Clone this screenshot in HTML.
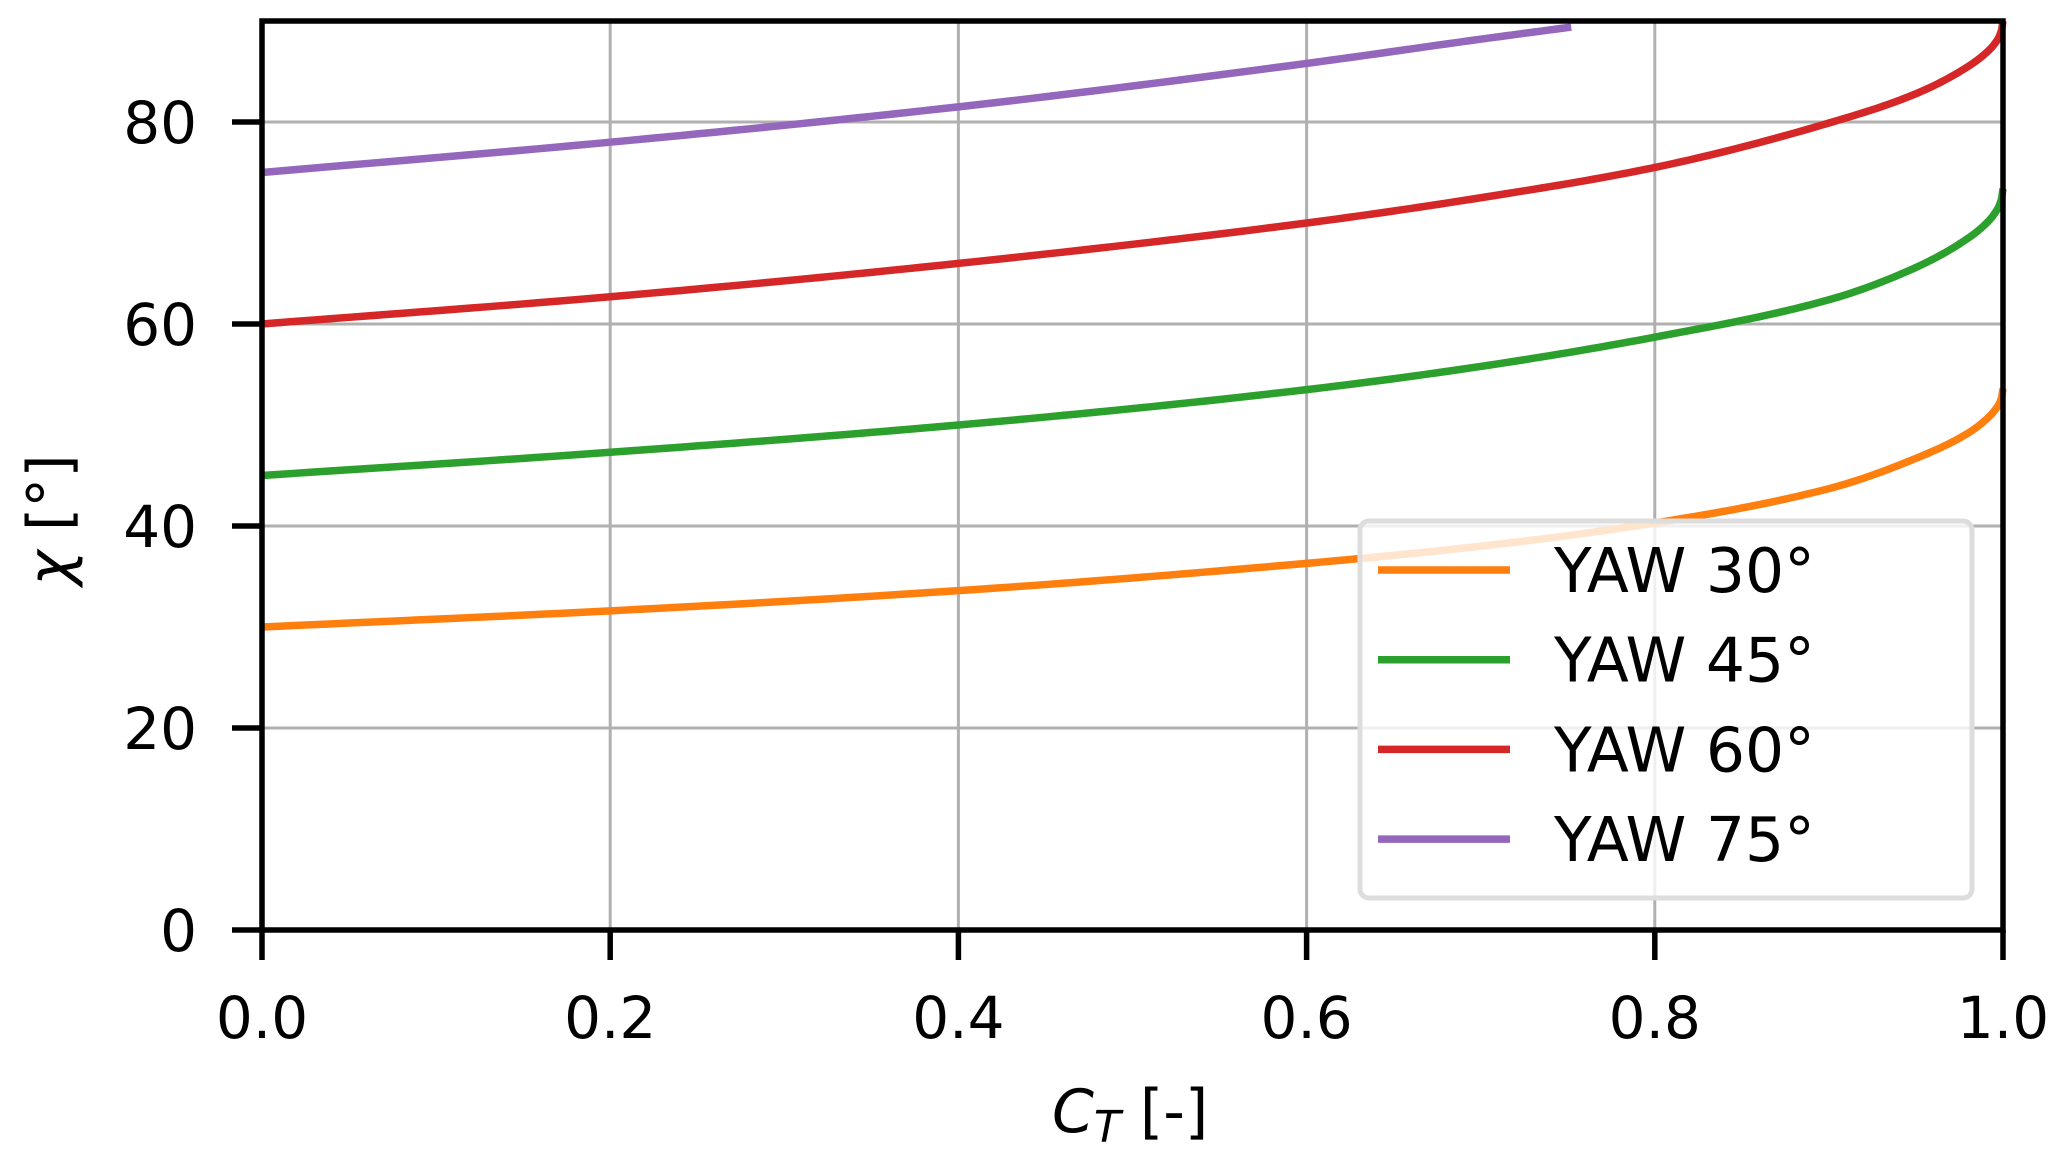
<!DOCTYPE html>
<html><head><meta charset="utf-8"><style>
html,body{margin:0;padding:0;background:#fff;}
svg{display:block;}
text{font-family:"DejaVu Sans","Liberation Sans",sans-serif;fill:#000;}
</style></head><body>
<svg id="chart" width="2067" height="1160" viewBox="0 0 2067 1160" xmlns="http://www.w3.org/2000/svg">
<g id="grid"></g>
<g id="series"></g>
<g id="axes"></g>
<g id="legend"></g>
<text x="1052" y="1132" font-size="60"><tspan font-style="italic">C</tspan><tspan font-style="italic" font-size="44" dy="10">T</tspan><tspan dy="-10"> [-]</tspan></text>
<text transform="translate(70,520) rotate(-90)" text-anchor="middle" font-size="60"><tspan font-style="italic">χ</tspan> [°]</text>
</svg>
<script>
const xTicks=[0,0.2,0.4,0.6,0.8,1.0];
const xTickLabels=["0.0","0.2","0.4","0.6","0.8","1.0"];
const yTicks=[0,20,40,60,80];
const yTickLabels=["0","20","40","60","80"];
const seriesNames=["YAW 30°","YAW 45°","YAW 60°","YAW 75°"];
const seriesColors=["#ff7f0e","#2ca02c","#d62728","#9467bd"];
const ct30=[0,0.2,0.4,0.6,0.7,0.8,0.9,0.95,0.98,0.99,0.995,0.999,1.0];
const yaw30=[30,31.6,33.6,36.3,38,40.3,43.7,46.7,49.2,50.5,51.4,52.6,53.6];
const ct45=[0,0.2,0.4,0.6,0.7,0.8,0.9,0.95,0.98,0.99,0.995,0.999,1.0];
const yaw45=[45,47.3,50,53.5,55.8,58.7,62.4,65.6,68.5,69.9,70.9,72.3,73.4];
const ct60=[0,0.2,0.4,0.6,0.7,0.8,0.9,0.95,0.98,0.99,0.995,0.999,1.0];
const yaw60=[60,62.7,66,70,72.5,75.5,79.9,82.8,85.5,86.8,87.7,89.0,90];
const ct75=[0,0.2,0.4,0.6,0.7,0.752];
const yaw75=[75,78,81.5,85.8,88.2,89.4];

const X0=262,X1=2003,Y0=930,Y1=21;
const xs=v=>X0+(v-0)/(1-0)*(X1-X0);
const ys=v=>Y0-(v-0)/(90-0)*(Y0-Y1);
const NS="http://www.w3.org/2000/svg";
function mk(tag,attrs,parent){const e=document.createElementNS(NS,tag);for(const k in attrs)e.setAttribute(k,attrs[k]);parent.appendChild(e);return e;}
const grid=document.getElementById('grid'),axes=document.getElementById('axes'),ser=document.getElementById('series'),leg=document.getElementById('legend');

xTicks.forEach((t,i)=>{
  const g=mk('line',{x1:xs(t),x2:xs(t),y1:Y1,y2:Y0,stroke:'#b0b0b0','stroke-width':3},grid);
  
  
  const tk=mk('line',{x1:xs(t),x2:xs(t),y1:Y0,y2:Y0+30,stroke:'#000','stroke-width':5.5},axes);
  
  
  const tx=mk('text',{x:xs(t),y:1038,'text-anchor':'middle','font-size':58},axes);
  tx.textContent=xTickLabels[i];
  
  
});
yTicks.forEach((t,i)=>{
  const g=mk('line',{x1:X0,x2:X1,y1:ys(t),y2:ys(t),stroke:'#b0b0b0','stroke-width':3},grid);
  
  
  const tk=mk('line',{x1:X0-30,x2:X0,y1:ys(t),y2:ys(t),stroke:'#000','stroke-width':5.5},axes);
  
  
  const tx=mk('text',{x:197,y:ys(t)+21,'text-anchor':'end','font-size':58},axes);
  tx.textContent=yTickLabels[i];
  
  
});
const frame=mk('rect',{x:X0,y:Y1,width:X1-X0,height:Y0-Y1,fill:'none',stroke:'#000','stroke-width':5.5},axes);



function pathFor(cx,cy){
  const n=cx.length,h=[],d=[],m=[];
  for(let i=0;i<n-1;i++){h[i]=cx[i+1]-cx[i];d[i]=(cy[i+1]-cy[i])/h[i];}
  m[0]=d[0];m[n-1]=d[n-2];
  for(let i=1;i<n-1;i++){
    if(d[i-1]*d[i]<=0)m[i]=0;
    else{const w1=2*h[i]+h[i-1],w2=h[i]+2*h[i-1];m[i]=(w1+w2)/(w1/d[i-1]+w2/d[i]);}
  }
  let s='M'+xs(cx[0])+','+ys(cy[0]);
  for(let i=0;i<n-1;i++){
    const N=20;
    for(let k=1;k<=N;k++){
      const t=k/N,t2=t*t,t3=t2*t;
      const v=(2*t3-3*t2+1)*cy[i]+(t3-2*t2+t)*h[i]*m[i]+(-2*t3+3*t2)*cy[i+1]+(t3-t2)*h[i]*m[i+1];
      s+=' L'+xs(cx[i]+t*h[i]).toFixed(2)+','+ys(v).toFixed(2);
    }
  }
  return s;
}
const allX=[ct30,ct45,ct60,ct75],allY=[yaw30,yaw45,yaw60,yaw75];
const lineNames=['line-yaw-30','line-yaw-45','line-yaw-60','line-yaw-75'];
allX.forEach((cx,i)=>{
  const el=mk('path',{d:pathFor(cx,allY[i]),fill:'none',stroke:seriesColors[i],'stroke-width':7.5,'stroke-linejoin':'round'},ser);
  
  
});

const box=mk('rect',{x:1360,y:521,width:612,height:377,rx:9,fill:'rgba(255,255,255,0.8)',stroke:'#dddddd','stroke-width':5},leg);


seriesNames.forEach((n,i)=>{
  const yy=570+i*89.7;
  const l=mk('line',{x1:1378,x2:1510,y1:yy,y2:yy,stroke:seriesColors[i],'stroke-width':7.5},leg);
  
  
  const t=mk('text',{x:1554,y:yy+22,'font-size':61.5},leg);
  t.textContent=n;
  
  
});
</script>
</body></html>
